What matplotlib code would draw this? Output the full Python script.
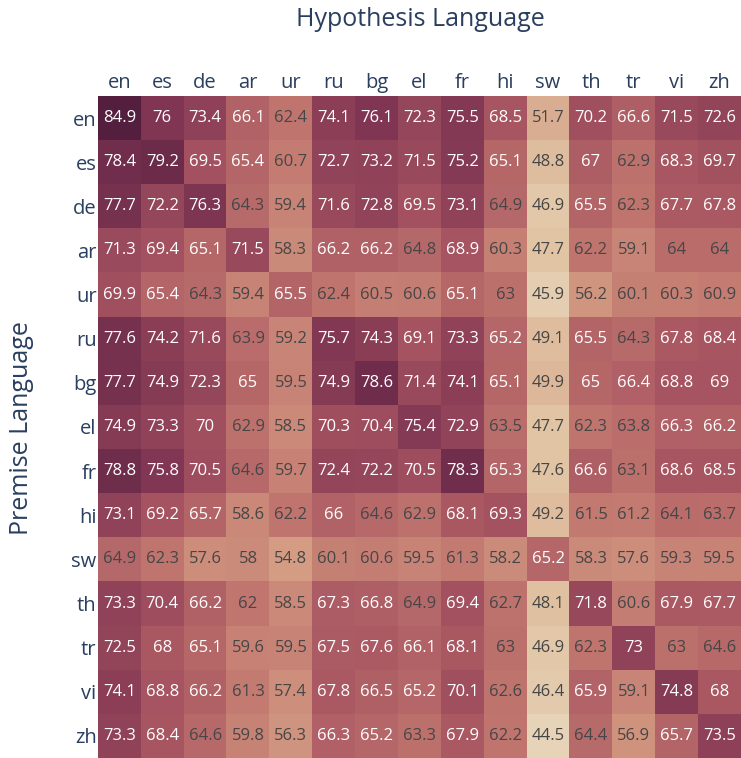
import numpy as np
import matplotlib
matplotlib.use("Agg")
import matplotlib.pyplot as plt
from matplotlib.colors import LinearSegmentedColormap

langs = ["en", "es", "de", "ar", "ur", "ru", "bg", "el", "fr", "hi", "sw", "th", "tr", "vi", "zh"]

# rows = premise language, columns = hypothesis language
en = [84.9, 76, 73.4, 66.1, 62.4, 74.1, 76.1, 72.3, 75.5, 68.5, 51.7, 70.2, 66.6, 71.5, 72.6]
es = [78.4, 79.2, 69.5, 65.4, 60.7, 72.7, 73.2, 71.5, 75.2, 65.1, 48.8, 67, 62.9, 68.3, 69.7]
de = [77.7, 72.2, 76.3, 64.3, 59.4, 71.6, 72.8, 69.5, 73.1, 64.9, 46.9, 65.5, 62.3, 67.7, 67.8]
ar = [71.3, 69.4, 65.1, 71.5, 58.3, 66.2, 66.2, 64.8, 68.9, 60.3, 47.7, 62.2, 59.1, 64, 64]
ur = [69.9, 65.4, 64.3, 59.4, 65.5, 62.4, 60.5, 60.6, 65.1, 63, 45.9, 56.2, 60.1, 60.3, 60.9]
ru = [77.6, 74.2, 71.6, 63.9, 59.2, 75.7, 74.3, 69.1, 73.3, 65.2, 49.1, 65.5, 64.3, 67.8, 68.4]
bg = [77.7, 74.9, 72.3, 65, 59.5, 74.9, 78.6, 71.4, 74.1, 65.1, 49.9, 65, 66.4, 68.8, 69]
el = [74.9, 73.3, 70, 62.9, 58.5, 70.3, 70.4, 75.4, 72.9, 63.5, 47.7, 62.3, 63.8, 66.3, 66.2]
fr = [78.8, 75.8, 70.5, 64.6, 59.7, 72.4, 72.2, 70.5, 78.3, 65.3, 47.6, 66.6, 63.1, 68.6, 68.5]
hi = [73.1, 69.2, 65.7, 58.6, 62.2, 66, 64.6, 62.9, 68.1, 69.3, 49.2, 61.5, 61.2, 64.1, 63.7]
sw = [64.9, 62.3, 57.6, 58, 54.8, 60.1, 60.6, 59.5, 61.3, 58.2, 65.2, 58.3, 57.6, 59.3, 59.5]
th = [73.3, 70.4, 66.2, 62, 58.5, 67.3, 66.8, 64.9, 69.4, 62.7, 48.1, 71.8, 60.6, 67.9, 67.7]
tr = [72.5, 68, 65.1, 59.6, 59.5, 67.5, 67.6, 66.1, 68.1, 63, 46.9, 62.3, 73, 63, 64.6]
vi = [74.1, 68.8, 66.2, 61.3, 57.4, 67.8, 66.5, 65.2, 70.1, 62.6, 46.4, 65.9, 59.1, 74.8, 68]
zh = [73.3, 68.4, 64.6, 59.8, 56.3, 66.3, 65.2, 63.3, 67.9, 62.2, 44.5, 64.4, 56.9, 65.7, 73.5]

scores = np.array([en, es, de, ar, ur, ru, bg, el, fr, hi, sw, th, tr, vi, zh])

# plotly "brwnyl" scale
brwnyl = ["#ede5cf", "#e0c2a2", "#d39c83", "#c1766f", "#a65461", "#813753", "#541f3f"]
cmap = LinearSegmentedColormap.from_list("brwnyl", brwnyl)

plt.rcParams["font.family"] = ["Open Sans", "DejaVu Sans"]
navy = "#2a3f5f"

fig = plt.figure(figsize=(7.41, 7.58), dpi=100)
ax = fig.add_axes([98 / 741, 0, 1 - 98 / 741, 1 - 96 / 758])

n = len(langs)
ax.imshow(scores, cmap=cmap, vmin=41, vmax=83,
          aspect="auto", interpolation="nearest")

for i in range(n):
    for j in range(n):
        v = scores[i, j]
        col = "white" if v >= 65 else "#464646"
        ax.text(j, i, f"{v:g}", ha="center", va="center", fontsize=12, color=col)

ax.set_xticks(range(n))
ax.set_xticklabels(langs, fontsize=14.5, color=navy)
ax.set_yticks(range(n))
ax.set_yticklabels(langs, fontsize=14.5, color=navy)
ax.xaxis.tick_top()
ax.tick_params(length=0)
ax.tick_params(axis="x", pad=2)
ax.tick_params(axis="y", pad=1)
for s in ax.spines.values():
    s.set_visible(False)

fig.text(420 / 741, 1 - 20 / 758, "Hypothesis Language", ha="center", va="center",
         fontsize=18, color=navy)
fig.text(22 / 741, 1 - 428 / 758, "Premise Language", ha="center", va="center",
         rotation=90, fontsize=18, color=navy)

fig.savefig("out.png", dpi=100)
